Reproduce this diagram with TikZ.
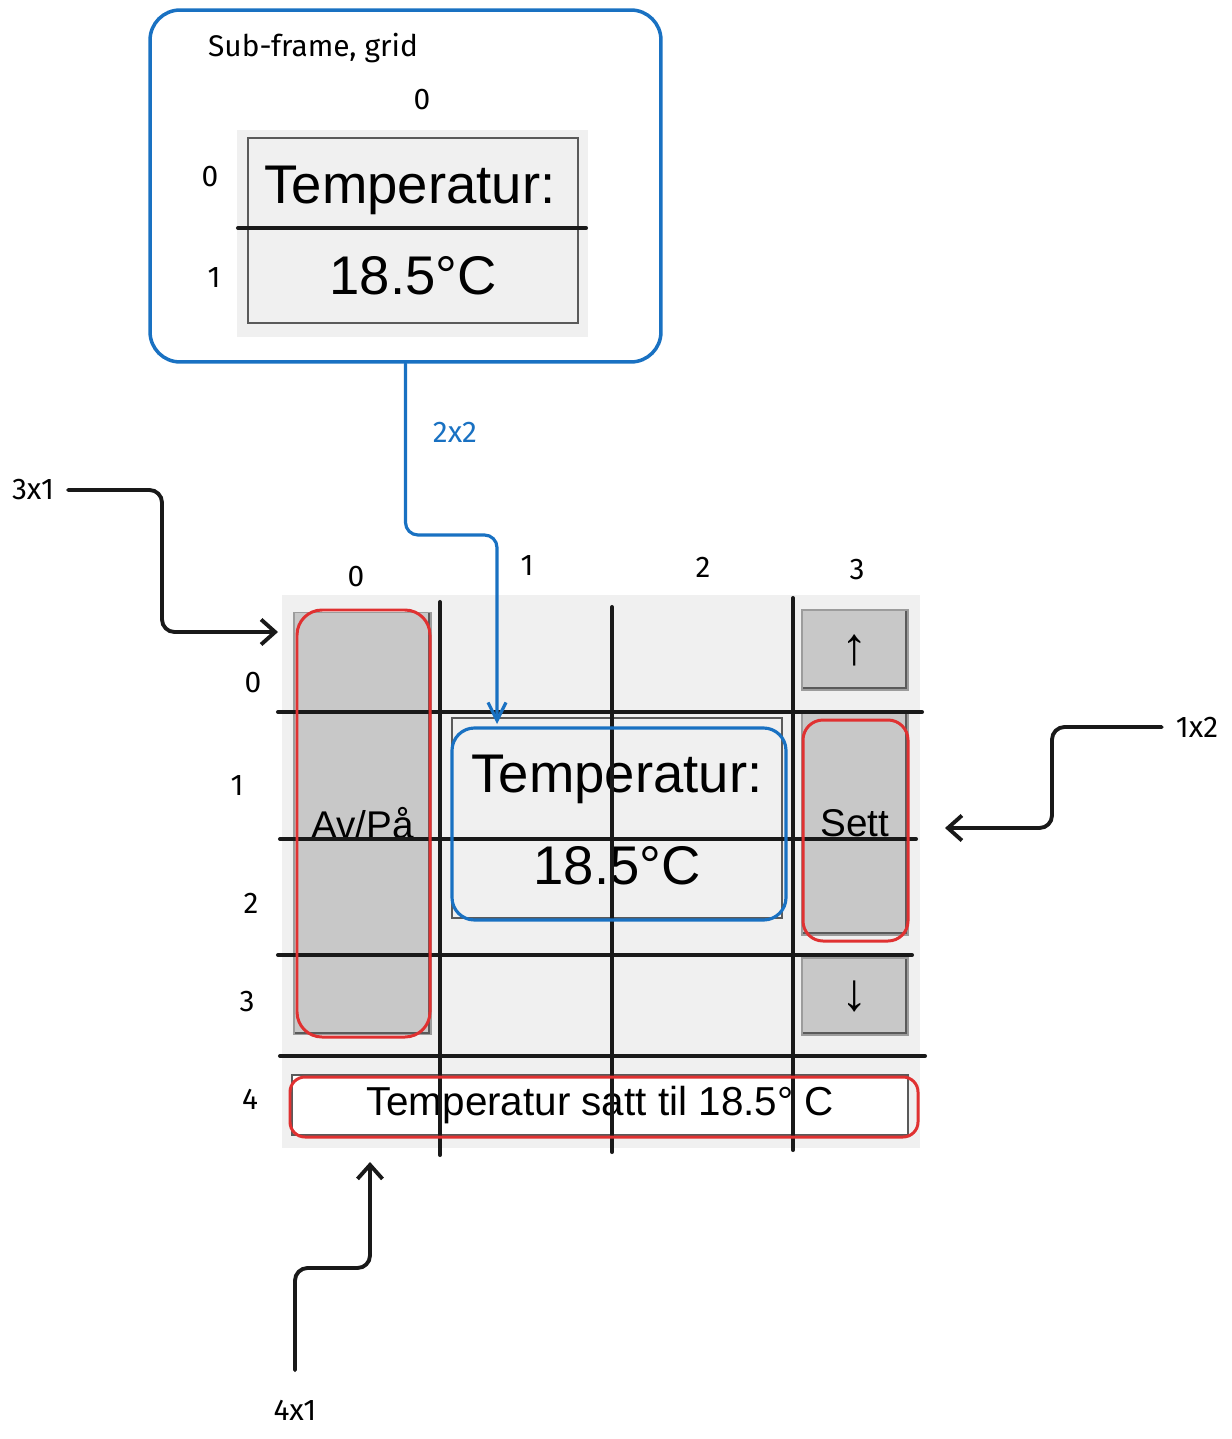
\documentclass[tikz,border=0pt]{standalone}
\usepackage{fontspec}
\setmainfont{Liberation Sans}
\newfontfamily\haand{Fira Sans}
\usetikzlibrary{arrows.meta}
\definecolor{blaaStrek}{RGB}{25,113,194}
\definecolor{rodStrek}{RGB}{224,49,49}
\definecolor{graaBakgrunn}{RGB}{240,240,240}
\definecolor{graaKnapp}{RGB}{200,200,200}
\definecolor{graaKant}{RGB}{90,90,90}

\begin{document}
\begin{tikzpicture}[x=0.02cm,y=-0.02cm,
  haandtekst/.style={font=\haand\fontsize{17}{19}\selectfont,inner sep=1pt},
  knapp/.style={rectangle,fill=graaKnapp,draw=graaKant!60,line width=0.6pt,
                font=\fontsize{22}{24}\selectfont,minimum width=2.12cm,
                path picture={\draw[graaKant,line width=3pt]
                  (path picture bounding box.north east) -- (path picture bounding box.south east)
                  -- (path picture bounding box.south west);}},
  visning/.style={rectangle,fill=graaBakgrunn,draw=graaKant,line width=1pt,
                  minimum width=6.6cm},
  stortekst/.style={font=\fontsize{31}{34}\selectfont,inner sep=0pt},
  rutenett/.style={black!90,line width=2.3pt,line cap=round},
  rodRamme/.style={draw=rodStrek,line width=1.7pt,rounded corners=0.5cm},
  blaaRamme/.style={draw=blaaStrek,line width=1.8pt,rounded corners=0.45cm},
  pil/.style={draw=black!90,line width=2.2pt,line cap=round,
              -{Straight Barb[length=2.8mm,width=5mm]}},
  rund/.style={rounded corners=0.25cm}]

  \useasboundingbox (0,0) rectangle (1231,1439);

  \node[draw=blaaStrek,line width=2pt,rounded corners=0.6cm,
        minimum width=10.22cm,minimum height=7.04cm] (ramme) at (405.5,186) {};
  \node[haandtekst] (rammeTittel) at (313,48) {Sub-frame, grid};
  \fill[graaBakgrunn] (237,130) rectangle (588,337);
  \node[visning,minimum height=3.7cm] (subBoks) at (413,230.5) {};
  \draw[rutenett] (238,228) -- (586,228);
  \node[stortekst] (subTemp) at (410,190) {Temperatur:};
  \node[stortekst] (subVerdi) at (413,276) {18.5°C};
  \node[haandtekst] (subKol0) at (422,100) {0};
  \node[haandtekst] (subRad0) at (210,177) {0};
  \node[haandtekst] (subRad1) at (214,278) {1};

  \fill[graaBakgrunn] (282,595) rectangle (920,1148);
  \node[knapp,minimum width=2.74cm,minimum height=8.46cm] (avpaa) at (362.5,823.5) {Av/På};
  \node[visning,minimum height=4cm] (tempBoks) at (617,818) {};
  \node[stortekst] (temp) at (617,779) {Temperatur:};
  \node[stortekst] (verdi) at (617,866) {18.5°C};
  \node[knapp,minimum height=1.6cm,font=\fontsize{30}{32}\selectfont] (opp) at (855,650) {↑};
  \node[knapp,minimum height=4.46cm] (sett) at (855,823.5) {Sett};
  \node[knapp,minimum height=1.54cm,font=\fontsize{30}{32}\selectfont] (ned) at (855,996.5) {↓};
  \node[rectangle,fill=white,draw=graaKant,line width=0.8pt,minimum width=12.32cm,
        minimum height=1.2cm,font=\fontsize{23}{25}\selectfont] (status) at (600,1105)
    {Temperatur satt til 18.5° C};

  \foreach \x/\ya/\yb in {440/602/1155,612/607/1152,793/598/1150}
    \draw[rutenett] (\x,\ya) -- (\x,\yb);
  \foreach \y/\xa/\xb in {712/278/922,839/280/916,955/278/912,1056/280/925}
    \draw[rutenett] (\xa,\y) -- (\xb,\y);

  \foreach \navn/\x/\y in {0/356/577,1/527/566,2/703/567,3/857/570}
    \node[haandtekst] (kol\navn) at (\x,\y) {\navn};
  \foreach \navn/\x/\y in {0/253/683,1/237/786,2/251/903,3/247/1002,4/250/1099}
    \node[haandtekst] (rad\navn) at (\x,\y) {\navn};

  \draw[rodRamme] (297,610) rectangle (430,1037);
  \draw[rodRamme,rounded corners=0.4cm] (803,720) rectangle (908,941);
  \draw[rodRamme,rounded corners=0.3cm] (290,1077) rectangle (918,1137);
  \draw[blaaRamme] (452,728) rectangle (786,920);

  \node[haandtekst] (l31) at (33,490) {3x1};
  \coordinate (k31) at (162,632);
  \coordinate (t31) at (278,632);
  \draw[pil,shorten <=0.24cm] (l31.east) [rund] -| (k31) [sharp corners] -- (t31);

  \node[haandtekst] (l12) at (1197,727) {1x2};
  \coordinate (k12) at (1052,828);
  \coordinate (t12) at (945,828);
  \draw[pil,shorten <=0.24cm] (l12.west) [rund] -| (k12) [sharp corners] -- (t12);

  \node[haandtekst] (l41) at (295,1410) {4x1};
  \coordinate (k41) at (370,1268);
  \coordinate (t41) at (370,1162);
  \draw[pil] ([yshift=0.55cm]l41.north) [rund] |- (k41) [sharp corners] -- (t41);

  \node[haandtekst,text=blaaStrek] (l22) at (455,432) {2x2};
  \coordinate (k22) at (497,535);
  \coordinate (t22) at (497,724);
  \draw[pil,draw=blaaStrek,line width=1.8pt,-{Straight Barb[length=3.6mm,width=3.6mm]}]
    (ramme.south) [rund] |- (k22) [sharp corners] -- (t22);
\end{tikzpicture}
\end{document}
